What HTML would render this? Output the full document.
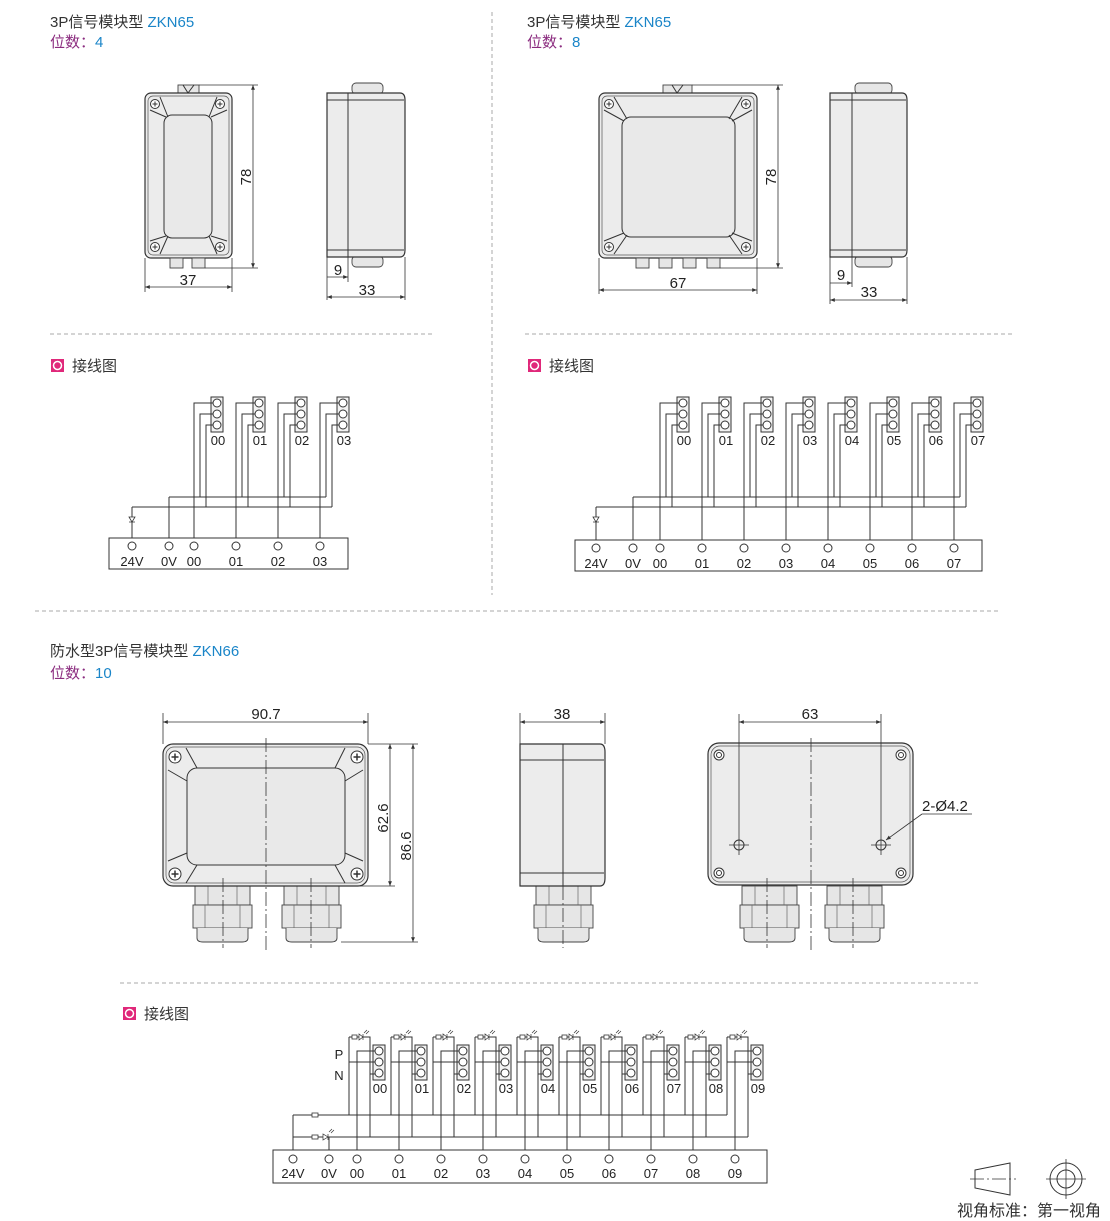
<!DOCTYPE html>
<html><head><meta charset="utf-8"><style>
body{margin:0;background:#fff;}
svg{display:block;font-family:"Liberation Sans","Noto Sans CJK SC",sans-serif;}
.t{font-size:15px;fill:#333}
.v{font-size:16px;fill:#333}
.b{fill:#1a85c8}
.p{fill:#8b2c7f}
.l{font-size:13px;fill:#222}
.d{font-size:15px;fill:#222}
.w{fill:none;stroke:#333;stroke-width:1}
.s{fill:#ececec;stroke:#333;stroke-width:1.2}
.f{fill:#e6e6e6;stroke:#444;stroke-width:0.9}
.dash{stroke:#aaa;stroke-width:1;stroke-dasharray:4 3;fill:none}
.dm{stroke:#333;stroke-width:0.8;fill:none}
.cl{stroke:#333;stroke-width:0.8;stroke-dasharray:14 3 2 3;fill:none}
</style></head><body>
<svg width="1110" height="1221" viewBox="0 0 1110 1221" xmlns="http://www.w3.org/2000/svg">
<defs>
<marker id="a" viewBox="0 0 10 10" refX="10" refY="5" markerWidth="8" markerHeight="6" orient="auto-start-reverse"><path d="M0 1 L10 5 L0 9 z" fill="#333"/></marker>
<g id="tb"><rect x="-6" y="0" width="12" height="35" fill="#f2f2f2" stroke="#333"/><circle cx="0" cy="6" r="4" fill="#fff" stroke="#333"/><circle cx="0" cy="17" r="4" fill="#fff" stroke="#333"/><circle cx="0" cy="28" r="4" fill="#fff" stroke="#333"/></g>
<g id="tw"><path class="w" d="M-4 6 H-23 V145 M-4 17 H-17 V100 M-4 28 H-11 V110"/></g>
<g id="tc"><circle cx="0" cy="0" r="4" fill="#fff" stroke="#333"/></g>
<g id="sc"><circle r="4.5" fill="#fff" stroke="#333"/><path d="M-2.5 0H2.5M0 -2.5V2.5" stroke="#333"/></g>
<g id="sc2"><circle r="6" fill="#fff" stroke="#333"/><path d="M-3.5 0H3.5M0 -3.5V3.5" stroke="#333" stroke-width="1.5"/></g>
<g id="bw"><path class="w" d="M-4 6 H-22 V110 M-4 17 H-30 M-30 -8 V70 M-30 -8 H-9 V92 M-4 29 H-9"/><rect x="-27" y="-10" width="5" height="4" fill="#fff" stroke="#333" stroke-width="0.8"/><path d="M-20 -11 L-20 -5 L-16 -8 Z M-16 -11 V-5 M-15 -12 l3 -3 M-13 -11 l3 -3" fill="#fff" stroke="#333" stroke-width="0.7"/></g>
<g id="gl"><rect x="2" y="0" width="55" height="19" class="f"/><rect x="0" y="19" width="59" height="23" class="f"/><path d="M4 42 V52 Q4 56 10 56 H49 Q55 56 55 52 V42" class="f"/><path d="M15 0V19 M44 0V19 M12 19V42 M47 19V42" stroke="#666" stroke-width="0.7"/></g>
</defs>

<text x="50" y="27" class="t">3P信号模块型 <tspan class="b">ZKN65</tspan></text>
<text x="50" y="47" class="t"><tspan class="p">位数：</tspan><tspan class="b">4</tspan></text>
<text x="527" y="27" class="t">3P信号模块型 <tspan class="b">ZKN65</tspan></text>
<text x="527" y="47" class="t"><tspan class="p">位数：</tspan><tspan class="b">8</tspan></text>
<text x="50" y="656" class="t">防水型3P信号模块型 <tspan class="b">ZKN66</tspan></text>
<text x="50" y="678" class="t"><tspan class="p">位数：</tspan><tspan class="b">10</tspan></text>

<path class="dash" d="M492 12V595 M50 334H435 M525 334H1012 M35 611H1000 M120 983H980"/>

<g><rect x="51" y="359" width="13" height="13" fill="#e0287a"/><circle cx="57.5" cy="365.5" r="4" fill="none" stroke="#fff" stroke-width="1.5"/><text x="72" y="371" class="t">接线图</text></g>
<g><rect x="528" y="359" width="13" height="13" fill="#e0287a"/><circle cx="534.5" cy="365.5" r="4" fill="none" stroke="#fff" stroke-width="1.5"/><text x="549" y="371" class="t">接线图</text></g>
<g><rect x="123" y="1007" width="13" height="13" fill="#e0287a"/><circle cx="129.5" cy="1013.5" r="4" fill="none" stroke="#fff" stroke-width="1.5"/><text x="144" y="1019" class="t">接线图</text></g>

<rect x="178" y="85" width="21" height="9" class="f"/><path d="M183 85 L188 93 L194 85" class="w"/>
<rect x="145" y="93" width="87" height="165" rx="6" class="s"/>
<rect x="148" y="96" width="81" height="159" rx="5" fill="none" stroke="#555" stroke-width="0.7"/>
<rect x="164" y="115" width="48" height="123" rx="8" fill="#e9e9e9" stroke="#333"/>
<path class="w" d="M150 110 L166 117 M160 97 L168 117 M227 110 L211 117 M217 97 L209 117 M150 241 L166 236 M160 254 L168 236 M227 241 L211 236 M217 254 L209 236"/>
<use href="#sc" x="155" y="104"/><use href="#sc" x="220" y="104"/><use href="#sc" x="155" y="247"/><use href="#sc" x="220" y="247"/>
<rect x="170" y="258" width="13" height="10" class="f"/><rect x="192" y="258" width="13" height="10" class="f"/>
<path class="dm" d="M199 85H258 M205 268H258 M145 258V292 M232 258V292"/>
<line x1="253" y1="85" x2="253" y2="268" class="dm" marker-start="url(#a)" marker-end="url(#a)"/>
<text transform="translate(251,177) rotate(-90)" class="d" text-anchor="middle">78</text>
<line x1="145" y1="287" x2="232" y2="287" class="dm" marker-start="url(#a)" marker-end="url(#a)"/>
<text x="188" y="285" class="d" text-anchor="middle">37</text>
<rect x="352" y="83" width="31" height="11" rx="4" class="f"/><rect x="352" y="256" width="31" height="11" rx="4" class="f"/>
<path d="M327 93 H400 Q405 93 405 100 V250 Q405 257 400 257 H327 Z" class="s"/>
<path class="w" d="M348 93V257 M327 100H404 M327 250H404"/>
<path class="dm" d="M327 257V300 M348 257V282 M405 257V300"/>
<line x1="327" y1="277" x2="348" y2="277" class="dm" marker-end="url(#a)"/>
<text x="338" y="275" class="d" text-anchor="middle">9</text>
<line x1="327" y1="297" x2="405" y2="297" class="dm" marker-start="url(#a)" marker-end="url(#a)"/>
<text x="367" y="295" class="d" text-anchor="middle">33</text>

<rect x="663" y="85" width="29" height="9" class="f"/><path d="M672 85 L677 93 L683 85" class="w"/>
<rect x="599" y="93" width="158" height="165" rx="6" class="s"/>
<rect x="602" y="96" width="152" height="159" rx="5" fill="none" stroke="#555" stroke-width="0.7"/>
<rect x="622" y="117" width="113" height="120" rx="9" fill="#e9e9e9" stroke="#333"/>
<path class="w" d="M604 110 L624 121 M614 97 L627 119 M752 110 L732 121 M742 97 L729 119 M604 241 L624 233 M614 254 L627 235 M752 241 L732 233 M742 254 L729 235"/>
<use href="#sc" x="609" y="104"/><use href="#sc" x="746" y="104"/><use href="#sc" x="609" y="247"/><use href="#sc" x="746" y="247"/>
<rect x="636" y="258" width="13" height="10" class="f"/><rect x="659" y="258" width="13" height="10" class="f"/><rect x="683" y="258" width="13" height="10" class="f"/><rect x="707" y="258" width="13" height="10" class="f"/>
<path class="dm" d="M692 85H783 M720 268H783 M599 258V294 M757 258V294"/>
<line x1="778" y1="85" x2="778" y2="268" class="dm" marker-start="url(#a)" marker-end="url(#a)"/>
<text transform="translate(776,177) rotate(-90)" class="d" text-anchor="middle">78</text>
<line x1="599" y1="290" x2="757" y2="290" class="dm" marker-start="url(#a)" marker-end="url(#a)"/>
<text x="678" y="288" class="d" text-anchor="middle">67</text>
<rect x="855" y="83" width="37" height="11" rx="4" class="f"/><rect x="855" y="256" width="37" height="11" rx="4" class="f"/>
<path d="M830 93 H902 Q907 93 907 100 V250 Q907 257 902 257 H830 Z" class="s"/>
<path class="w" d="M852 93V257 M830 100H906 M830 250H906"/>
<path class="dm" d="M830 257V304 M852 257V287 M907 257V304"/>
<line x1="830" y1="283" x2="852" y2="283" class="dm" marker-end="url(#a)"/>
<text x="841" y="280" class="d" text-anchor="middle">9</text>
<line x1="830" y1="300" x2="907" y2="300" class="dm" marker-start="url(#a)" marker-end="url(#a)"/>
<text x="869" y="297" class="d" text-anchor="middle">33</text>

<g><use href="#tb" x="217" y="397"/><use href="#tw" x="217" y="397"/><text x="218" y="445" class="l" text-anchor="middle">00</text></g>
<g><use href="#tb" x="259" y="397"/><use href="#tw" x="259" y="397"/><text x="260" y="445" class="l" text-anchor="middle">01</text></g>
<g><use href="#tb" x="301" y="397"/><use href="#tw" x="301" y="397"/><text x="302" y="445" class="l" text-anchor="middle">02</text></g>
<g><use href="#tb" x="343" y="397"/><use href="#tw" x="343" y="397"/><text x="344" y="445" class="l" text-anchor="middle">03</text></g>
<path class="w" d="M169 497H326 M132 507H332 M169 497V542 M132 507V542"/>
<path d="M129 522 H135 M129 517 L135 517 L132 522 Z" fill="#fff" stroke="#333" stroke-width="0.8"/>
<rect x="109" y="538" width="239" height="31" fill="#fff" stroke="#333"/>
<use href="#tc" x="132" y="546"/><use href="#tc" x="169" y="546"/><use href="#tc" x="194" y="546"/><use href="#tc" x="236" y="546"/><use href="#tc" x="278" y="546"/><use href="#tc" x="320" y="546"/>
<text y="566" class="l" text-anchor="middle"><tspan x="132">24V</tspan><tspan x="169">0V</tspan><tspan x="194">00</tspan><tspan x="236">01</tspan><tspan x="278">02</tspan><tspan x="320">03</tspan></text>

<use href="#tb" x="683" y="397"/><use href="#tw" x="683" y="397"/>
<use href="#tb" x="725" y="397"/><use href="#tw" x="725" y="397"/>
<use href="#tb" x="767" y="397"/><use href="#tw" x="767" y="397"/>
<use href="#tb" x="809" y="397"/><use href="#tw" x="809" y="397"/>
<use href="#tb" x="851" y="397"/><use href="#tw" x="851" y="397"/>
<use href="#tb" x="893" y="397"/><use href="#tw" x="893" y="397"/>
<use href="#tb" x="935" y="397"/><use href="#tw" x="935" y="397"/>
<use href="#tb" x="977" y="397"/><use href="#tw" x="977" y="397"/>
<text y="445" class="l" text-anchor="middle"><tspan x="684">00</tspan><tspan x="726">01</tspan><tspan x="768">02</tspan><tspan x="810">03</tspan><tspan x="852">04</tspan><tspan x="894">05</tspan><tspan x="936">06</tspan><tspan x="978">07</tspan></text>
<path class="w" d="M633 497H960 M596 507H966 M633 497V544 M596 507V544 M660 542V544"/>
<path d="M593 522 H599 M593 517 L599 517 L596 522 Z" fill="#fff" stroke="#333" stroke-width="0.8"/>
<rect x="575" y="540" width="407" height="31" fill="#fff" stroke="#333"/>
<use href="#tc" x="596" y="548"/><use href="#tc" x="633" y="548"/><use href="#tc" x="660" y="548"/><use href="#tc" x="702" y="548"/><use href="#tc" x="744" y="548"/><use href="#tc" x="786" y="548"/><use href="#tc" x="828" y="548"/><use href="#tc" x="870" y="548"/><use href="#tc" x="912" y="548"/><use href="#tc" x="954" y="548"/>
<text y="568" class="l" text-anchor="middle"><tspan x="596">24V</tspan><tspan x="633">0V</tspan><tspan x="660">00</tspan><tspan x="702">01</tspan><tspan x="744">02</tspan><tspan x="786">03</tspan><tspan x="828">04</tspan><tspan x="870">05</tspan><tspan x="912">06</tspan><tspan x="954">07</tspan></text>

<use href="#gl" x="193" y="886"/><use href="#gl" x="282" y="886"/>
<rect x="163" y="744" width="205" height="142" rx="10" class="s"/>
<rect x="166" y="747" width="199" height="136" rx="8" fill="none" stroke="#555" stroke-width="0.7"/>
<rect x="187" y="768" width="158" height="97" rx="10" fill="#e9e9e9" stroke="#333"/>
<path class="w" d="M168 770 L187 781 M186 748 L197 768 M363 770 L345 781 M345 748 L335 768 M168 861 L187 853 M186 883 L197 865 M363 861 L345 853 M345 883 L335 865"/>
<use href="#sc2" x="175" y="757"/><use href="#sc2" x="357" y="757"/><use href="#sc2" x="175" y="874"/><use href="#sc2" x="357" y="874"/>
<path class="cl" d="M266 738V950 M223 878V948 M311 878V948"/>
<path class="dm" d="M163 713V744 M368 713V744 M368 744H418 M341 886H395 M341 942H418"/>
<line x1="163" y1="722" x2="368" y2="722" class="dm" marker-start="url(#a)" marker-end="url(#a)"/>
<text x="266" y="719" class="d" text-anchor="middle">90.7</text>
<line x1="390" y1="744" x2="390" y2="886" class="dm" marker-start="url(#a)" marker-end="url(#a)"/>
<text transform="translate(388,818) rotate(-90)" class="d" text-anchor="middle">62.6</text>
<line x1="413" y1="744" x2="413" y2="942" class="dm" marker-start="url(#a)" marker-end="url(#a)"/>
<text transform="translate(411,846) rotate(-90)" class="d" text-anchor="middle">86.6</text>

<use href="#gl" x="534" y="886"/>
<path d="M520 744 H600 Q605 744 605 752 V878 Q605 886 600 886 H520 Z" class="s"/>
<path class="w" d="M563 744V886 M520 760H604 M520 873H604"/>
<path class="dm" d="M520 713V744 M605 713V744"/>
<path class="cl" d="M563 886V948"/>
<line x1="520" y1="722" x2="605" y2="722" class="dm" marker-start="url(#a)" marker-end="url(#a)"/>
<text x="562" y="719" class="d" text-anchor="middle">38</text>

<use href="#gl" x="740" y="886"/><use href="#gl" x="825" y="886"/>
<rect x="708" y="743" width="205" height="142" rx="11" class="s"/>
<rect x="711" y="746" width="199" height="136" rx="9" fill="none" stroke="#555" stroke-width="0.7"/>
<g fill="#fff" stroke="#333"><circle cx="719" cy="755" r="5"/><circle cx="719" cy="755" r="2.5"/><circle cx="901" cy="755" r="5"/><circle cx="901" cy="755" r="2.5"/><circle cx="719" cy="873" r="5"/><circle cx="719" cy="873" r="2.5"/><circle cx="901" cy="873" r="5"/><circle cx="901" cy="873" r="2.5"/></g>
<circle cx="739" cy="845" r="5" fill="none" stroke="#333"/><circle cx="881" cy="845" r="5" fill="none" stroke="#333"/>
<path class="dm" d="M729 845H749 M739 835V855 M871 845H891 M881 835V855 M739 714V835 M881 714V835"/>
<path class="cl" d="M811 738V950 M767 878V948 M853 878V948"/>
<line x1="739" y1="722" x2="881" y2="722" class="dm" marker-start="url(#a)" marker-end="url(#a)"/>
<text x="810" y="719" class="d" text-anchor="middle">63</text>
<text x="922" y="811" class="d">2-Ø4.2</text>
<path class="dm" d="M922 814H972"/>
<line x1="922" y1="814" x2="886" y2="840" class="dm" marker-end="url(#a)"/>

<use href="#tb" x="379" y="1045"/><use href="#bw" x="379" y="1045"/>
<use href="#tb" x="421" y="1045"/><use href="#bw" x="421" y="1045"/>
<use href="#tb" x="463" y="1045"/><use href="#bw" x="463" y="1045"/>
<use href="#tb" x="505" y="1045"/><use href="#bw" x="505" y="1045"/>
<use href="#tb" x="547" y="1045"/><use href="#bw" x="547" y="1045"/>
<use href="#tb" x="589" y="1045"/><use href="#bw" x="589" y="1045"/>
<use href="#tb" x="631" y="1045"/><use href="#bw" x="631" y="1045"/>
<use href="#tb" x="673" y="1045"/><use href="#bw" x="673" y="1045"/>
<use href="#tb" x="715" y="1045"/><use href="#bw" x="715" y="1045"/>
<use href="#tb" x="757" y="1045"/><use href="#bw" x="757" y="1045"/>
<text y="1093" class="l" text-anchor="middle"><tspan x="380">00</tspan><tspan x="422">01</tspan><tspan x="464">02</tspan><tspan x="506">03</tspan><tspan x="548">04</tspan><tspan x="590">05</tspan><tspan x="632">06</tspan><tspan x="674">07</tspan><tspan x="716">08</tspan><tspan x="758">09</tspan></text>
<text x="339" y="1059" class="l" text-anchor="middle">P</text>
<text x="339" y="1080" class="l" text-anchor="middle">N</text>
<path class="w" d="M293 1115H727 M293 1137H748 M293 1115V1155 M329 1137V1155"/>
<rect x="312" y="1113" width="6" height="4" fill="#fff" stroke="#333" stroke-width="0.8"/>
<rect x="312" y="1135" width="6" height="4" fill="#fff" stroke="#333" stroke-width="0.8"/>
<path d="M323 1134 L323 1140 L328 1137 Z M328 1134 V1140 M329 1132 l3 -3 M331 1133 l3 -3" fill="#fff" stroke="#333" stroke-width="0.7"/>
<rect x="273" y="1150" width="494" height="33" fill="#fff" stroke="#333"/>
<use href="#tc" x="293" y="1159"/><use href="#tc" x="329" y="1159"/><use href="#tc" x="357" y="1159"/><use href="#tc" x="399" y="1159"/><use href="#tc" x="441" y="1159"/><use href="#tc" x="483" y="1159"/><use href="#tc" x="525" y="1159"/><use href="#tc" x="567" y="1159"/><use href="#tc" x="609" y="1159"/><use href="#tc" x="651" y="1159"/><use href="#tc" x="693" y="1159"/><use href="#tc" x="735" y="1159"/>
<text y="1178" class="l" text-anchor="middle"><tspan x="293">24V</tspan><tspan x="329">0V</tspan><tspan x="357">00</tspan><tspan x="399">01</tspan><tspan x="441">02</tspan><tspan x="483">03</tspan><tspan x="525">04</tspan><tspan x="567">05</tspan><tspan x="609">06</tspan><tspan x="651">07</tspan><tspan x="693">08</tspan><tspan x="735">09</tspan></text>

<path d="M975 1170 L1010 1163 L1010 1195 L975 1188 Z" fill="none" stroke="#333"/>
<path class="cl" d="M970 1179H1016"/>
<circle cx="1066" cy="1179" r="16" fill="none" stroke="#333"/><circle cx="1066" cy="1179" r="9" fill="none" stroke="#333"/>
<path class="dm" d="M1046 1179H1086 M1066 1159V1199"/>
<text x="957" y="1216" class="v">视角标准：第一视角</text>
</svg>
</body></html>
